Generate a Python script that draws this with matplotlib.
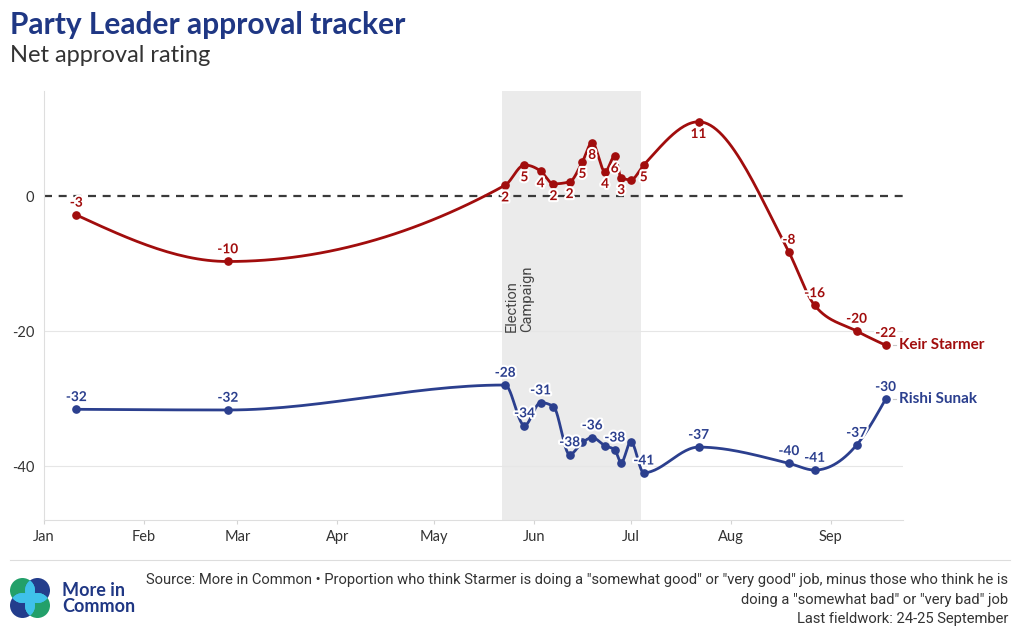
"""
Party Leader approval tracker - net approval (More in Common).
"""

import matplotlib
matplotlib.use("Agg")
import matplotlib.dates as mdates
import matplotlib.patheffects as pe
import matplotlib.pyplot as plt
import matplotlib.transforms as mtransforms
import numpy as np
import pandas as pd
from matplotlib.patches import Circle

W, H = 1020, 631

# --- data -------------------------------------------------------------------
dates = [
    "2024-01-11", "2024-02-27", "2024-05-23", "2024-05-29", "2024-06-03",
    "2024-06-07", "2024-06-12", "2024-06-16", "2024-06-19", "2024-06-23",
    "2024-06-26", "2024-06-28", "2024-07-01", "2024-07-05", "2024-07-22",
    "2024-08-19", "2024-08-27", "2024-09-09", "2024-09-18",
]
starmer = [-2.8, -9.7, 1.6, 4.6, 3.7, 1.8, 2.1, 5.1, 7.9, 3.6,
           5.9, 2.7, 2.4, 4.6, 11.0, -8.3, -16.2, -20.0, -22.1]
sunak = [-31.6, -31.7, -28.0, -34.0, -30.6, -31.2, -38.3, -36.5, -35.8, -37.0,
         -37.6, -39.5, -36.4, -41.0, -37.2, -39.6, -40.6, -36.9, -30.1]
starmer_labelled = [1, 1, 1, 1, 1, 1, 1, 1, 1, 1, 1, 1, 0, 1, 1, 1, 1, 1, 1]
sunak_labelled = [1, 1, 1, 1, 1, 0, 1, 0, 1, 0, 1, 0, 0, 1, 1, 1, 1, 1, 1]

campaign = ("2024-05-22", "2024-07-04")
month_ticks = pd.date_range("2024-01-01", "2024-09-01", freq="MS")
y_ticks = [0, -20, -40]

RED = "#a10d0d"
BLUE = "#2b3f8e"
NAVY = "#1f3784"
GREY_TXT = "#333333"

plt.rcParams["font.family"] = ["Lato", "DejaVu Sans"]


def monotone_x(x, y, n=30):
    """Cubic monotone interpolation (same idea as d3.curveMonotoneX)."""
    x = np.asarray(x, float)
    y = np.asarray(y, float)
    h = np.diff(x)
    s = np.diff(y) / h
    sign = lambda v: -1.0 if v < 0 else 1.0
    t = np.zeros(len(x))
    for i in range(1, len(x) - 1):
        h0, h1, s0, s1 = h[i - 1], h[i], s[i - 1], s[i]
        p = (s0 * h1 + s1 * h0) / (h0 + h1)
        t[i] = (sign(s0) + sign(s1)) * min(abs(s0), abs(s1), 0.5 * abs(p))
    t[0] = (3 * s[0] - t[1]) / 2
    t[-1] = (3 * s[-1] - t[-2]) / 2
    xs, ys = [], []
    for i in range(len(x) - 1):
        u = np.linspace(0, 1, n, endpoint=False)
        h00 = 2 * u**3 - 3 * u**2 + 1
        h10 = u**3 - 2 * u**2 + u
        h01 = -2 * u**3 + 3 * u**2
        h11 = u**3 - u**2
        xs.append(x[i] + u * h[i])
        ys.append(h00 * y[i] + h10 * h[i] * t[i] + h01 * y[i + 1] + h11 * h[i] * t[i + 1])
    xs.append([x[-1]])
    ys.append([y[-1]])
    return np.concatenate(xs), np.concatenate(ys)


def fig_xy(px, py):
    return px / W, 1 - py / H


fig = plt.figure(figsize=(W / 100, H / 100), dpi=100)
ax = fig.add_axes([44 / W, 1 - 520 / H, (903 - 44) / W, (520 - 91) / H])

x = mdates.date2num(pd.to_datetime(dates))
start = mdates.date2num(pd.Timestamp("2024-01-01"))
ax.set_xlim(start, start + 266.4)
ax.set_ylim(-48.0, 15.56)

# campaign shading
c0, c1 = mdates.date2num(pd.to_datetime(list(campaign)))
ax.axvspan(c0, c1, color="#ebebeb", zorder=0, lw=0)
ax.text(c0 + 1.0, -20.2, "Election\nCampaign", rotation=90, ha="left", va="bottom",
        multialignment="left", fontsize=10.5, color="#444444", zorder=1,
        family=["Roboto", "DejaVu Sans"], linespacing=1.1)

# grid + zero line
for v in y_ticks:
    if v == 0:
        ax.axhline(0, color="#3a3a3a", lw=1.6, ls=(0, (3.6, 3.0)), zorder=2)
    else:
        ax.axhline(v, color="#e6e6e6", lw=0.8, zorder=0.5)

halo = [pe.withStroke(linewidth=3, foreground="white")]

for vals, shown, col, name in [(starmer, starmer_labelled, RED, "Keir Starmer"),
                               (sunak, sunak_labelled, BLUE, "Rishi Sunak")]:
    sx, sy = monotone_x(x, vals)
    ax.plot(sx, sy, color=col, lw=2.0, zorder=3, solid_capstyle="round")
    ax.plot(x, vals, "o", color=col, ms=5.2, zorder=4)
    for xi, v, s in zip(x, vals, shown):
        if not s:
            continue
        below = col == RED and v > 0
        ax.annotate(f"{round(v):d}", (xi, v), xytext=(0, -8.8 if below else 8.8),
                    textcoords="offset points", ha="center", va="center",
                    fontsize=9.8, fontweight="bold", color=col, zorder=5,
                    path_effects=halo)
    ax.annotate(name, (x[-1], vals[-1]), xytext=(9.5, 0), textcoords="offset points",
                ha="left", va="center", fontsize=11, fontweight="bold", color=col,
                annotation_clip=False)
    tr = mtransforms.offset_copy(ax.transData, fig=fig, x=5.5, y=0, units="points")
    ax.plot([x[-1], x[-1] + 0.9], [vals[-1], vals[-1]], color="#c8c8c8", lw=0.8,
            transform=tr, clip_on=False)

# axes styling
ax.set_xticks(mdates.date2num(month_ticks))
ax.set_xticklabels([d.strftime("%b") for d in month_ticks])
ax.set_yticks(y_ticks)
ax.set_yticklabels([str(v) for v in y_ticks])
ax.tick_params(axis="x", length=3, color="#d4d4d4", pad=4.5, labelsize=10.5, labelcolor=GREY_TXT)
ax.tick_params(axis="y", length=0, pad=7, labelsize=10.5, labelcolor=GREY_TXT)
for side in ["top", "right"]:
    ax.spines[side].set_visible(False)
for side in ["left", "bottom"]:
    ax.spines[side].set_color("#dedede")
    ax.spines[side].set_linewidth(0.8)

# titles
fig.text(*fig_xy(10, 25), "Party Leader approval tracker", fontsize=21.5,
         fontweight="bold", color=NAVY, va="center", ha="left")
fig.text(*fig_xy(10, 55), "Net approval rating", fontsize=17, color=GREY_TXT,
         va="center", ha="left")

# footer
fig.add_artist(plt.Line2D([10 / W, 1010 / W], [1 - 560 / H] * 2, color="#dddddd", lw=0.8))
src = ('Source: More in Common \u2022 Proportion who think Starmer is doing a "somewhat good" '
       'or "very good" job, minus those who think he is')
foot = dict(fontsize=10.65, color=GREY_TXT, ha="right", va="center",
            family=["Roboto", "DejaVu Sans"])
fig.text(*fig_xy(1008, 580), src, **foot)
fig.text(*fig_xy(1008, 600), 'doing a "somewhat bad" or "very bad" job', **foot)
fig.text(*fig_xy(1008, 619), "Last fieldwork: 24-25 September", **foot)

# logo
lax = fig.add_axes([10 / W, 1 - 618 / H, 40 / W, 40 / H])
lax.set_xlim(0, 40)
lax.set_ylim(0, 40)
lax.axis("off")
centres = [(12.5, 27.5), (27.5, 27.5), (12.5, 12.5), (27.5, 12.5)]
colours = ["#23a06a", "#233d8c", "#233d8c", "#23a06a"]
circles = []
for (cx, cy), colr in zip(centres, colours):
    c = Circle((cx, cy), 12.5, color=colr, lw=0)
    lax.add_patch(c)
    circles.append(c)
for i in range(4):
    for j in range(4):
        if i != j:
            cyan = Circle(centres[i], 12.5, color="#3fc1ea", lw=0)
            lax.add_patch(cyan)
            cyan.set_clip_path(circles[j])
fig.text(*fig_xy(62, 590), "More in", fontsize=13, fontweight="bold", color=NAVY,
         va="center", ha="left")
fig.text(*fig_xy(62, 606), "Common", fontsize=13, fontweight="bold", color=NAVY,
         va="center", ha="left")

fig.savefig("out.png", dpi=100)
